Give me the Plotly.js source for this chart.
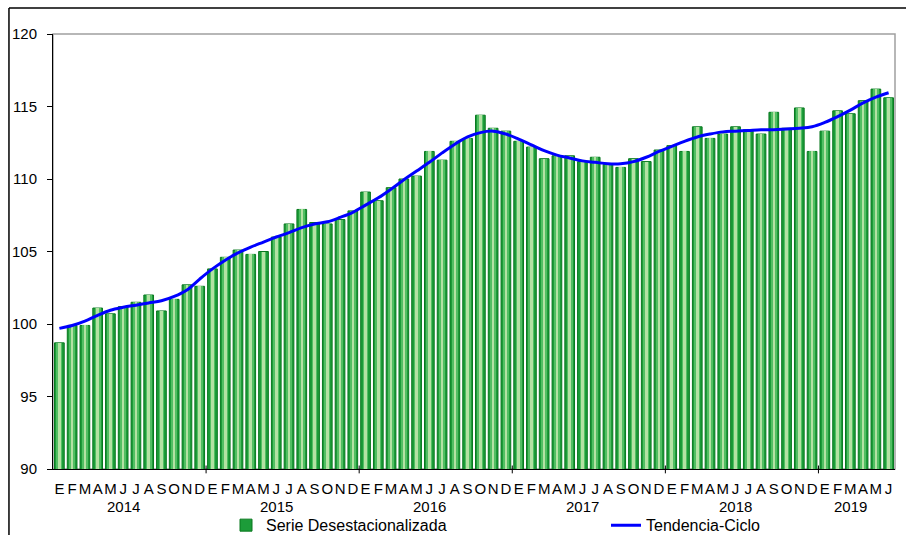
<!DOCTYPE html>
<html>
<head>
<meta charset="utf-8">
<script src="https://cdn.plot.ly/plotly-3.0.1.min.js"></script>
<style>
html,body{margin:0;padding:0;background:#fff;}
#chart{width:906px;height:535px;}
</style>
</head>
<body>
<div id="chart"></div>
<script>
// ---- data ----
const monthLetters = ['E','F','M','A','M','J','J','A','S','O','N','D'];
const years = ['2014','2015','2016','2017','2018','2019'];
const monthsPerYear = [12,12,12,12,12,6];

const serieDesestacionalizada = [
  98.7, 99.9, 99.9,101.1,100.7,101.2,101.5,102.0,100.9,101.7,102.7,102.6,
 103.8,104.6,105.1,104.8,105.0,106.0,106.9,107.9,107.0,106.9,107.2,107.8,
 109.1,108.5,109.4,110.0,110.2,111.9,111.3,112.6,112.8,114.4,113.5,113.3,
 112.6,112.2,111.4,111.6,111.6,111.2,111.5,111.0,110.8,111.4,111.2,112.0,
 112.3,111.9,113.6,112.8,113.1,113.6,113.4,113.1,114.6,113.5,114.9,111.9,
 113.3,114.7,114.5,115.4,116.2,115.6
];

const tendenciaCiclo = [
  99.7, 99.9,100.2,100.6,100.95,101.15,101.3,101.45,101.6,101.9,102.35,103.1,
 103.8,104.4,104.9,105.3,105.65,106.0,106.3,106.65,106.9,107.05,107.35,107.7,
 108.2,108.7,109.3,109.95,110.55,111.15,111.8,112.4,112.9,113.2,113.3,113.1,
 112.75,112.35,111.95,111.65,111.45,111.25,111.15,111.05,111.05,111.2,111.5,111.9,
 112.25,112.6,112.9,113.1,113.25,113.3,113.35,113.4,113.4,113.45,113.5,113.6,
 113.9,114.3,114.75,115.25,115.65,115.95
];

// ---- derived ----
const idx = serieDesestacionalizada.map((_, i) => i);
const tickText = [];
monthsPerYear.forEach(n => { for (let m = 0; m < n; m++) tickText.push(monthLetters[m]); });

const FONT = 'Liberation Sans, Arial, sans-serif';

const traces = [
  {
    type: 'bar', x: idx, y: serieDesestacionalizada, width: 0.76,
    name: 'Serie Desestacionalizada', legend: 'legend',
    marker: { color: '#1c9c39', line: { color: '#08781e', width: 1 } },
    hoverinfo: 'skip'
  },
  {
    type: 'bar', x: idx, y: serieDesestacionalizada, width: 0.46,
    showlegend: false, marker: { color: '#52be63', line: { width: 0 } }, hoverinfo: 'skip'
  },
  {
    type: 'bar', x: idx, y: serieDesestacionalizada, width: 0.2,
    showlegend: false, marker: { color: '#b3e2a3', line: { width: 0 } }, hoverinfo: 'skip'
  },
  {
    type: 'scatter', mode: 'lines', x: idx, y: tendenciaCiclo,
    name: 'Tendencia-Ciclo', legend: 'legend2',
    line: { color: '#0000ff', width: 3, shape: 'spline', smoothing: 1 }
  }
];

// year labels and year-boundary ticks
const annotations = [];
const shapes = [];
let start = 0;
monthsPerYear.forEach((n, k) => {
  const centre = start + (n - 1) / 2 - 0.5;
  annotations.push({
    xref: 'x', yref: 'paper', x: centre, y: -0.087, yanchor: 'middle', xanchor: 'center',
    text: years[k], showarrow: false, font: { family: FONT, size: 15, color: '#000' }
  });
  if (k > 0) {
    shapes.push({ type: 'line', xref: 'x', yref: 'paper', x0: start - 0.5, x1: start - 0.5,
      y0: -0.01, y1: 0.008, line: { color: '#000', width: 1 } });
  }
  start += n;
});
// gray frame (top/right) and outer black border
shapes.push({ type: 'rect', xref: 'paper', yref: 'paper', x0: 0, x1: 1, y0: 0, y1: 1,
  line: { color: '#a0a0a0', width: 1.5 }, layer: 'below' });
shapes.push({ type: 'line', xref: 'paper', yref: 'paper', x0: -0.0523, x1: 1.05, y0: 1.0598, y1: 1.0598,
  line: { color: '#000', width: 1.5 } });
shapes.push({ type: 'line', xref: 'paper', yref: 'paper', x0: -0.0523, x1: -0.0523, y0: -0.2, y1: 1.0598,
  line: { color: '#000', width: 1.5 } });

const legendCommon = {
  orientation: 'h', xref: 'container', yref: 'container', xanchor: 'left',
  y: 0.05, yanchor: 'top',
  font: { family: FONT, size: 16, color: '#000' },
  bgcolor: 'rgba(0,0,0,0)', borderwidth: 0
};

const layout = {
  width: 906, height: 535,
  margin: { l: 53, r: 11, t: 34, b: 66 },
  paper_bgcolor: '#fff', plot_bgcolor: '#fff',
  font: { family: FONT, size: 15, color: '#000' },
  barmode: 'overlay',
  bargap: 0,
  showlegend: true,
  legend: Object.assign({}, legendCommon, { x: 226 / 906 }),
  legend2: Object.assign({}, legendCommon, { x: 606 / 906 }),
  xaxis: {
    range: [-0.5, idx.length - 0.5],
    tickmode: 'array', tickvals: idx, ticktext: tickText,
    ticks: '', showgrid: false, zeroline: false,
    showline: true, linecolor: '#000', linewidth: 1,
    tickfont: { family: FONT, size: 15, color: '#000' },
    tickangle: 0, ticklabelstandoff: 6
  },
  yaxis: {
    range: [90, 120], dtick: 5, tick0: 90,
    ticks: 'outside', ticklen: 5, tickcolor: '#000', tickwidth: 1,
    showgrid: false, zeroline: false,
    showline: true, linecolor: '#000', linewidth: 1,
    tickfont: { family: FONT, size: 15, color: '#000' },
    ticklabelstandoff: 7
  },
  annotations: annotations,
  shapes: shapes
};

Plotly.newPlot('chart', traces, layout, { displayModeBar: false, staticPlot: true });
</script>
</body>
</html>
